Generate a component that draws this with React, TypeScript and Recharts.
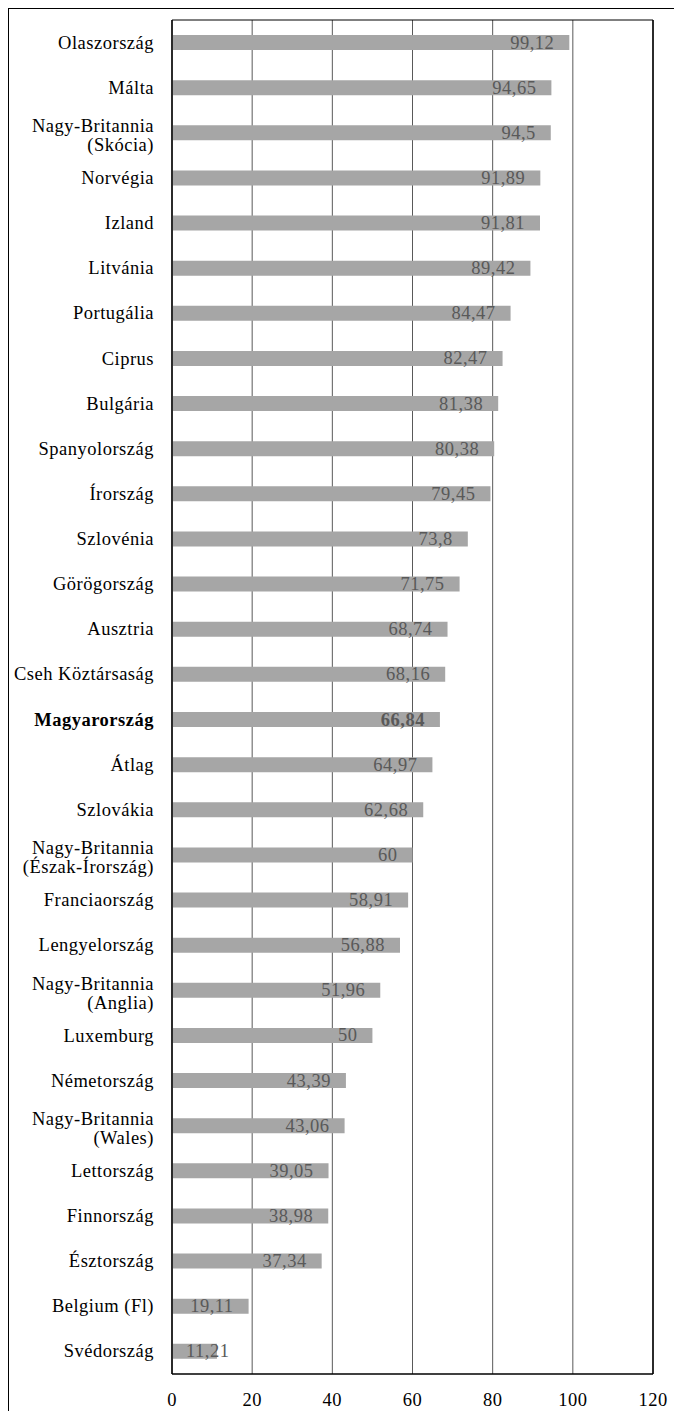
import React from "react";
import { Bar, BarChart, CartesianGrid, LabelList, ReferenceLine, XAxis, YAxis } from "recharts";

const countries = [
  "Olaszország",
  "Málta",
  "Nagy-Britannia\n(Skócia)",
  "Norvégia",
  "Izland",
  "Litvánia",
  "Portugália",
  "Ciprus",
  "Bulgária",
  "Spanyolország",
  "Írország",
  "Szlovénia",
  "Görögország",
  "Ausztria",
  "Cseh Köztársaság",
  "Magyarország",
  "Átlag",
  "Szlovákia",
  "Nagy-Britannia\n(Észak-Írország)",
  "Franciaország",
  "Lengyelország",
  "Nagy-Britannia\n(Anglia)",
  "Luxemburg",
  "Németország",
  "Nagy-Britannia\n(Wales)",
  "Lettország",
  "Finnország",
  "Észtország",
  "Belgium (Fl)",
  "Svédország",
];

const values = [
  99.12, 94.65, 94.5, 91.89, 91.81, 89.42, 84.47, 82.47, 81.38, 80.38, 79.45, 73.8, 71.75, 68.74, 68.16, 66.84,
  64.97, 62.68, 60, 58.91, 56.88, 51.96, 50, 43.39, 43.06, 39.05, 38.98, 37.34, 19.11, 11.21,
];

const xTicks = [0, 20, 40, 60, 80, 100, 120];

const highlight = "Magyarország";

const data = countries.map((name, i) => ({ name, value: values[i] }));

const FONT = "'Liberation Serif', serif";
const SIZE = 18.5;
const SPACING = 0.5;

const fmt = (v: number) => String(v).replace(".", ",");

function CountryTick(props: any) {
  const { x, y, payload } = props;
  const lines: string[] = String(payload.value).split("\n");
  const lh = 19;
  const start = lines.length > 1 ? -((lines.length - 1) * lh) / 2 + 3 : 0;
  const bold = payload.value === highlight;
  return (
    <text
      x={x}
      y={y}
      textAnchor="end"
      fill="#000"
      style={{ fontFamily: FONT, fontSize: SIZE, letterSpacing: SPACING }}
      fontWeight={bold ? "bold" : "normal"}
    >
      {lines.map((line, i) => (
        <tspan key={i} x={x} dy={i === 0 ? start + 6 : lh}>
          {line}
        </tspan>
      ))}
    </text>
  );
}

function ValueLabel(props: any) {
  const { x, y, width, height, value, index } = props;
  const bold = countries[index] === highlight;
  const label = fmt(value);
  let textW = 0;
  for (const ch of label) textW += (ch === "," ? 0.25 : 0.5) * SIZE + SPACING;
  const fits = width - 15 - textW >= 14;
  return (
    <text
      x={fits ? x + width - 15 : x + 14}
      y={y + height / 2}
      dy={6}
      textAnchor={fits ? "end" : "start"}
      fill="#595959"
      style={{ fontFamily: FONT, fontSize: SIZE, letterSpacing: SPACING }}
      fontWeight={bold ? "bold" : "normal"}
    >
      {label}
    </text>
  );
}

export default function App() {
  return (
    <div style={{ width: 674, height: 1403, borderTop: "1px solid #000", borderLeft: "1px solid #000", boxSizing: "border-box" }}>
      <BarChart
        width={673}
        height={1402}
        data={data}
        layout="vertical"
        margin={{ top: 11, right: 29, left: 0, bottom: 7 }}
      >
        <CartesianGrid horizontal={false} stroke="#595959" />
        <CartesianGrid
          vertical={false}
          stroke="#000"
          horizontalCoordinatesGenerator={({ offset }: any) => [offset.top]}
        />
        <XAxis
          type="number"
          domain={[0, 120]}
          ticks={xTicks}
          tickLine={false}
          tickSize={0}
          tickMargin={19}
          height={30}
          axisLine={{ stroke: "#000", strokeWidth: 1.5 }}
          tick={{ fill: "#000", fontFamily: FONT, fontSize: SIZE, letterSpacing: SPACING }}
        />
        <YAxis
          type="category"
          dataKey="name"
          width={163}
          interval={0}
          tickLine={false}
          tickSize={0}
          tickMargin={18}
          axisLine={{ stroke: "#000", strokeWidth: 1.5 }}
          tick={<CountryTick />}
        />
        <ReferenceLine x={120} stroke="#000" strokeWidth={1.5} />
        <Bar dataKey="value" fill="#a6a6a6" barSize={15} isAnimationActive={false}>
          <LabelList dataKey="value" content={<ValueLabel />} />
        </Bar>
      </BarChart>
    </div>
  );
}
